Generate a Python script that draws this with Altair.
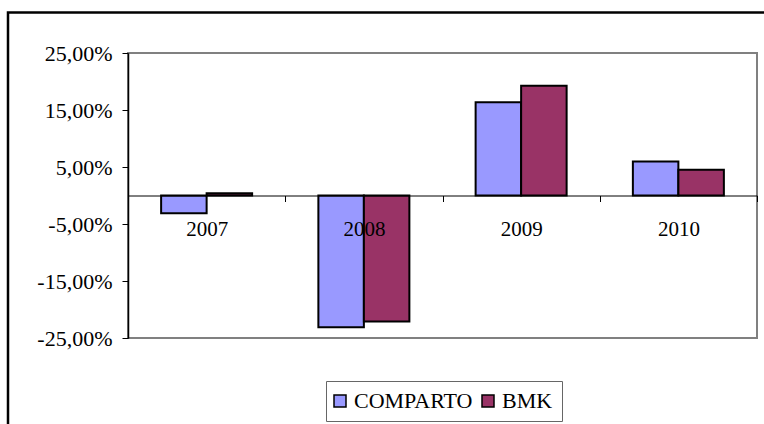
import altair as alt
import pandas as pd

# Annual returns (%) of the fund compartment and its benchmark
years = ["2007", "2008", "2009", "2010"]
comparto = [-3.1, -23.1, 16.35, 5.95]
bmk = [0.4, -22.1, 19.25, 4.5]
series_names = ["COMPARTO", "BMK"]
series_colors = ["#9999FF", "#993366"]
y_ticks = [-25, -15, -5, 5, 15, 25]

rows = []
for i, yr in enumerate(years):
    rows.append({"anno": yr, "serie": "COMPARTO", "valore": comparto[i]})
    rows.append({"anno": yr, "serie": "BMK", "valore": bmk[i]})
df = pd.DataFrame(rows)

FONT = "'Liberation Serif', 'Times New Roman', 'DejaVu Serif', serif"
W, H = 629, 285

bars = alt.Chart(df).mark_bar(stroke="black", strokeWidth=2, opacity=1).encode(
    x=alt.X(
        "anno:N",
        sort=years,
        scale=alt.Scale(paddingInner=0, paddingOuter=0),
        axis=alt.Axis(
            title=None,
            orient="bottom",
            offset=-142.5,
            labelAngle=0,
            labelFont=FONT,
            labelFontSize=21,
            labelColor="black",
            labelPadding=17,
            labelBaseline="top",
            domainColor="black",
            domainWidth=1,
            tickColor="black",
            tickSize=6,
            tickWidth=1,
            tickBand="extent",
            zindex=1,
        ),
    ),
    xOffset=alt.XOffset(
        "serie:N",
        sort=series_names,
        scale=alt.Scale(paddingInner=0, paddingOuter=0.728),
    ),
    y=alt.Y(
        "valore:Q",
        scale=alt.Scale(domain=[-25, 25], nice=False, zero=False),
        axis=alt.Axis(
            title=None,
            values=y_ticks,
            labelExpr="(datum.value < 0 ? '-' : '') + replace(format(abs(datum.value), '.2f'), '.', ',') + '%'",
            labelFont=FONT,
            labelFontSize=22,
            labelColor="black",
            labelPadding=10,
            domainColor="black",
            domainWidth=1.5,
            tickColor="black",
            tickSize=6,
            tickWidth=1,
            grid=False,
        ),
    ),
    color=alt.Color(
        "serie:N",
        sort=series_names,
        scale=alt.Scale(domain=series_names, range=series_colors),
        legend=alt.Legend(
            title=None,
            orient="none",
            legendX=198,
            legendY=328,
            direction="horizontal",
            labelFont=FONT,
            labelFontSize=22,
            labelColor="black",
            symbolType="square",
            symbolSize=144,
            symbolStrokeColor="black",
            symbolStrokeWidth=1.5,
            symbolOpacity=1,
            symbolOffset=-6,
            strokeColor="#666666",
            fillColor="white",
            padding=9,
            columnPadding=6,
            labelOffset=3,
        ),
    ),
)

# Outer chart frame (open at the right and bottom edges of the page)
frame = alt.Chart(pd.DataFrame({"k": [0]})).mark_rect(
    fill=None, stroke="black", strokeWidth=2.5
).encode(
    x=alt.value(-120),
    x2=alt.value(W + 40),
    y=alt.value(-40.5),
    y2=alt.value(H + 120),
)

chart = (
    alt.layer(bars, frame)
    .properties(
        width=W,
        height=H,
        autosize=alt.AutoSizeParams(type="none"),
        padding={"left": 128, "top": 53, "right": 7, "bottom": 86},
        background="white",
    )
    .configure(font=FONT)
    .configure_view(stroke="#808080", strokeWidth=2)
)

chart.save("out.html", embed_options={"renderer": "svg", "actions": False})
